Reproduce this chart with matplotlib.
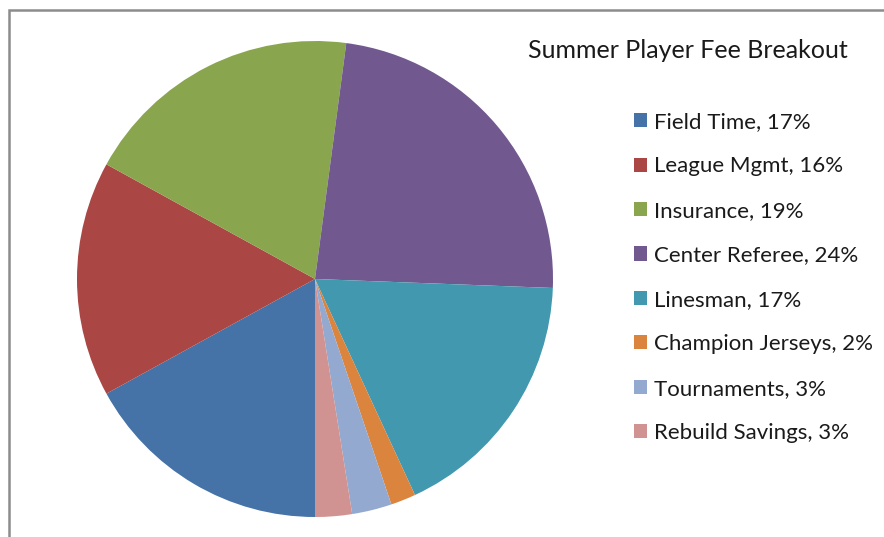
import matplotlib.pyplot as plt
from matplotlib.patches import Patch, Rectangle

# slice data (share of player fee, clockwise from 6 o'clock)
categories = ["Field Time", "League Mgmt", "Insurance", "Center Referee",
              "Linesman", "Champion Jerseys", "Tournaments", "Rebuild Savings"]
shares = [17.0, 16.0, 19.1, 23.5, 17.5, 1.7, 2.7, 2.5]
pct_labels = ["17%", "16%", "19%", "24%", "17%", "2%", "3%", "3%"]
colors = ["#4572A7", "#AA4643", "#89A54E", "#71588F",
          "#4198AF", "#DB843D", "#93A9CF", "#D19392"]

plt.rcParams['font.family'] = ['Lato', 'DejaVu Sans']

W, H = 884, 537
fig = plt.figure(figsize=(W / 100, H / 100), dpi=100)

# gray chart border (left and top visible, rest cropped)
fig.patches.append(Rectangle((9 / W, -0.1), 1.1, (H - 10) / H + 0.1,
                             transform=fig.transFigure, fill=False,
                             edgecolor="#8c8c8c", linewidth=1.8))

#pie: center (315,279) px, radius 238 px
cx, cy, r = 315, 279, 238
ax = fig.add_axes([(cx - r) / W, (H - cy - r) / H, 2 * r / W, 2 * r / H])
wedges, _ = ax.pie(shares, colors=colors, startangle=-90, counterclock=False,
                   radius=1.0, wedgeprops=dict(linewidth=0))
ax.set_xlim(-1, 1)
ax.set_ylim(-1, 1)
ax.set_aspect('equal')

fig.text(688 / W, 1 - 50 / H, "Summer Player Fee Breakout", ha='center',
         va='center', fontsize=18, color="#1a1a1a")

handles = [Patch(facecolor=c, edgecolor='none') for c in colors]
labels = [f"{n}, {p}" for n, p in zip(categories, pct_labels)]
fig.legend(handles, labels, loc='upper left',
           bbox_to_anchor=(614 / W, 1 - 92 / H), frameon=False,
           fontsize=16, handlelength=0.6, handleheight=0.6,
           handletextpad=0.28, labelspacing=1.1, labelcolor="#1a1a1a")

fig.savefig("out.png", dpi=100)
